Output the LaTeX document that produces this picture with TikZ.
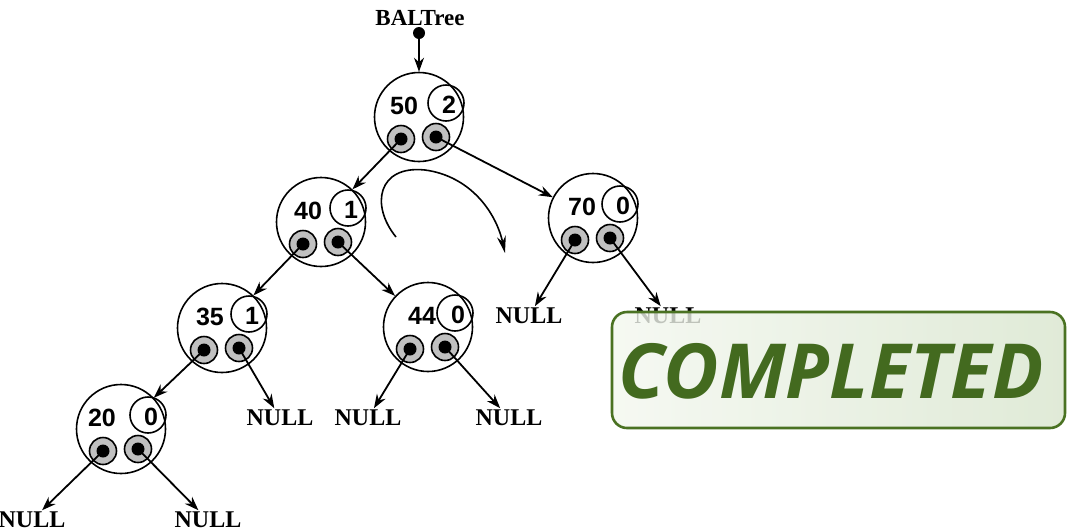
\documentclass[tikz,border=0pt]{standalone}
\usepackage{fontspec}
\setmainfont{Liberation Serif}
\newfontfamily\numfont{Liberation Sans}
\newfontfamily\compfont{Open Sans}
\usetikzlibrary{arrows.meta}
\definecolor{ptrgray}{HTML}{C0C0C0}
\definecolor{boxgreen}{HTML}{4A7222}
\definecolor{textgreen}{HTML}{436A1F}
\definecolor{boxleft}{HTML}{F3F7EF}
\definecolor{boxright}{HTML}{D8E5CD}
\tikzset{
  bignode/.style={circle,draw,minimum size=89pt,inner sep=0pt},
  balnode/.style={circle,draw,minimum size=36pt,inner sep=0pt},
  ptrring/.style={circle,draw,fill=ptrgray,minimum size=27pt,inner sep=0pt},
  ptrdot/.style={circle,fill=black,minimum size=13pt,inner sep=0pt},
  keytxt/.style={font=\numfont\bfseries\fontsize{25}{25}\selectfont,inner sep=0pt},
  nulltxt/.style={font=\bfseries\fontsize{24}{24}\selectfont,inner sep=1pt},
  ptrarrow/.style={line width=1.8pt,-{Stealth[length=14pt,width=10pt]}},
  compbox/.style={draw=boxgreen,line width=2.6pt,rounded corners=15pt,left color=boxleft,right color=boxright,fill opacity=0.8},
}
\newcommand\treenode[6]{%
  \node[bignode] (#1) at (#2,#3) {};
  \node[balnode] (#1b) at ([shift={(27,-14)}]#1) {};
  \node[keytxt] (#1k) at ([shift={(#5,-11)}]#1) {#4};
  \node[keytxt] (#1bt) at ([shift={(3,2)}]#1b) {#6};
  \node[ptrring] (#1l) at ([shift={(-18,22)}]#1) {};
  \node[ptrring] (#1r) at ([shift={(17,20)}]#1) {};
  \node[ptrdot] (#1ld) at (#1l) {};
  \node[ptrdot] (#1rd) at (#1r) {};
}
\begin{document}
\begin{tikzpicture}[x=1pt,y=-1pt,line width=1.6pt]
\useasboundingbox (0,0) rectangle (1070,531);
% root label
\node[font=\bfseries\fontsize{23}{23}\selectfont,inner sep=0pt] (root) at (420,18) {BALTree};
\node[ptrdot,minimum size=12pt] (rootdot) at (419,33) {};
% tree nodes
\treenode{n50}{419}{117}{50}{-15}{2}
\treenode{n40}{321}{222}{40}{-13}{1}
\treenode{n70}{593}{218}{70}{-11}{0}
\treenode{n35}{222}{328}{35}{-12}{1}
\treenode{n44}{428}{327}{44}{-6}{0}
\treenode{n20}{121}{429}{20}{-19}{0}
% NULL labels
\node[nulltxt] (z1) at (529,316) {NULL};
\node[nulltxt] (z2) at (668,316) {NULL};
\node[nulltxt] (z3) at (280,418) {NULL};
\node[nulltxt] (z4) at (368,418) {NULL};
\node[nulltxt] (z5) at (509,418) {NULL};
\node[nulltxt] (z6) at (32,520) {NULL};
\node[nulltxt] (z7) at (208,520) {NULL};
% connectors
\draw[ptrarrow] (rootdot.center) -- (n50.north);
\draw[ptrarrow] (n50l.center) -- (n40);
\draw[ptrarrow] (n50r.center) -- (n70);
\draw[ptrarrow] (n40l.center) -- (n35);
\draw[ptrarrow] (n40r.center) -- (n44);
\draw[ptrarrow] (n35l.center) -- (n20);
\draw[ptrarrow] (n35r.center) -- (z3);
\draw[ptrarrow] (n44l.center) -- (z4);
\draw[ptrarrow] (n44r.center) -- (z5);
\draw[ptrarrow] (n70l.center) -- (z1);
\draw[ptrarrow] (n70r.center) -- (z2);
\draw[ptrarrow] (n20l.center) -- (z6);
\draw[ptrarrow] (n20r.center) -- (z7);
% rotation arrow
\coordinate (cs) at (396,237);
\coordinate (ce) at (505,253);
\draw[line width=1.6pt,-{Stealth[length=17pt,width=9pt]}] (cs) .. controls (370,205) and (378,165) .. (425,170) .. controls (470,176) and (496,212) .. (ce);
% stamp
\node[compbox,minimum width=453pt,minimum height=116pt,inner sep=0pt] (stamp) at (838.5,370) {};
\node[font=\compfont\bfseries\itshape\fontsize{76}{76}\selectfont,text=textgreen,inner sep=0pt] (stamptext) at (831,371) {COMPLETED};
\end{tikzpicture}
\end{document}
